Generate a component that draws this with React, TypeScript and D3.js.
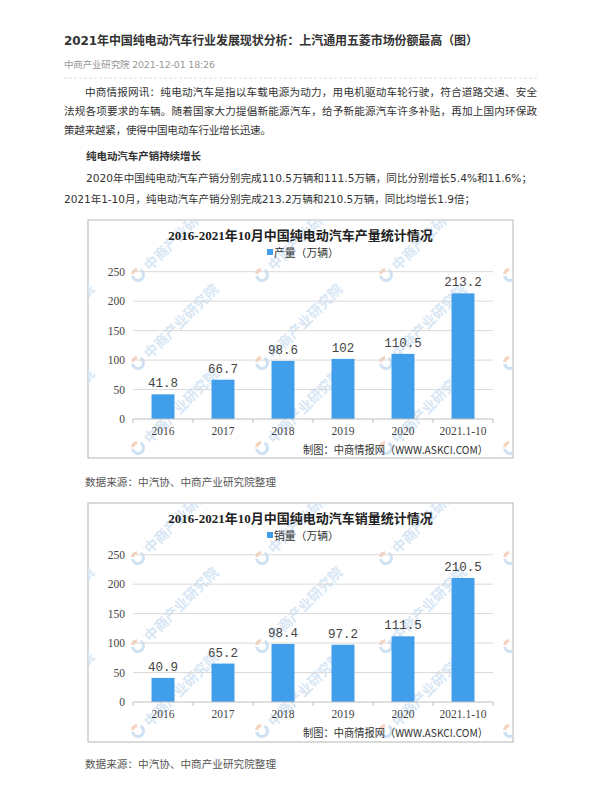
import { scaleBand, scaleLinear, arc } from "d3";

const categories = ["2016", "2017", "2018", "2019", "2020", "2021.1-10"];
const production = [41.8, 66.7, 98.6, 102, 110.5, 213.2];
const sales = [40.9, 65.2, 98.4, 97.2, 111.5, 210.5];
const yTicks = [0, 50, 100, 150, 200, 250];

const pageTitle = "2021年中国纯电动汽车行业发展现状分析：上汽通用五菱市场份额最高（图）";
const byline = "中商产业研究院 2021-12-01 18:26";
const para1 = [
  "中商情报网讯：纯电动汽车是指以车载电源为动力，用电机驱动车轮行驶，符合道路交通、安全",
  "法规各项要求的车辆。随着国家大力提倡新能源汽车，给予新能源汽车许多补贴，再加上国内环保政",
  "策越来越紧，使得中国电动车行业增长迅速。",
];
const subHead = "纯电动汽车产销持续增长";
const para2 = [
  "2020年中国纯电动汽车产销分别完成110.5万辆和111.5万辆，同比分别增长5.4%和11.6%；",
  "2021年1-10月，纯电动汽车产销分别完成213.2万辆和210.5万辆，同比均增长1.9倍；",
];
const sourceNote = "数据来源：中汽协、中商产业研究院整理";
const madeBy = "制图：中商情报网（WWW.ASKCI.COM）";
const watermark = "中商产业研究院";

const SANS = '"DejaVu Sans", "Noto Sans CJK SC", sans-serif';
const CJK = '"Noto Sans CJK SC", sans-serif';
const SERIF = '"Liberation Serif", "Noto Sans CJK SC", serif';
const MONO = '"Liberation Mono", monospace';
const BLUE = "#409eea";

const BOX_L = 88;
const BOX_R = 513;

type PanelProps = {
  id: string;
  top: number;
  height: number;
  title: string;
  legend: string;
  values: number[];
};

const blueArc = arc()({ innerRadius: 4, outerRadius: 7, startAngle: Math.PI * 0.15, endAngle: Math.PI * 1.45 } as any);
const orangeArc = arc()({ innerRadius: 4, outerRadius: 7, startAngle: Math.PI * 1.55, endAngle: Math.PI * 1.95 } as any);

const Watermarks = ({ top }: { top: number }) => {
  const cols = [14, 138, 262, 386, 510];
  const rows = [55, 143, 228];
  return (
    <g>
      {rows.map((r) =>
        cols.map((c) => (
          <g key={`wm-${r}-${c}`} transform={`translate(${c},${top + r})`}>
            <path d={blueArc!} fill="#cfe2f4" />
            <path d={orangeArc!} fill="#f7d2bd" />
            <text
              transform="rotate(-45) translate(11,0)"
              fontFamily={CJK}
              fontWeight="bold"
              fontSize={14}
              fill="#d8e7f5"
              dominantBaseline="central"
            >
              {watermark}
            </text>
          </g>
        ))
      )}
    </g>
  );
};

const BarPanel = ({ id, top, height, title, legend, values }: PanelProps) => {
  const x = scaleBand()
    .domain(categories)
    .range([133, 493])
    .paddingInner(0.617)
    .paddingOuter(0.3085);
  const y = scaleLinear().domain([0, 250]).range([top + 199, top + 51.7]);
  const step = x.step();
  const bounds = categories.map((c) => x(c)! - (step - x.bandwidth()) / 2).concat([493]);

  return (
    <g>
      <defs>
        <clipPath id={`clip-${id}`}>
          <rect x={BOX_L} y={top} width={BOX_R - BOX_L} height={height} />
        </clipPath>
      </defs>
      <rect x={BOX_L} y={top} width={BOX_R - BOX_L} height={height} fill="#fff" stroke="#b5b5b5" />
      <g clipPath={`url(#clip-${id})`}>
        <Watermarks top={top} />
      </g>
      <text
        x={(BOX_L + BOX_R) / 2}
        y={top + 15.5}
        textAnchor="middle"
        dominantBaseline="central"
        fontFamily={SERIF}
        fontWeight="bold"
        fontSize={13}
        fill="#222"
      >
        {title}
      </text>
      <rect x={267} y={top + 29} width={6} height={6} fill={BLUE} />
      <text x={274} y={top + 32.3} dominantBaseline="central" fontFamily={CJK} fontSize={10.8} fill="#333">
        {legend}
      </text>
      {yTicks.map((t) => (
        <g key={`g-${t}`}>
          {t > 0 && <line x1={133} x2={493} y1={y(t)} y2={y(t)} stroke="#d9d9d9" />}
          <text
            x={125}
            y={y(t)}
            textAnchor="end"
            dominantBaseline="central"
            fontFamily={SERIF}
            fontSize={11.5}
            fill="#444"
          >
            {t}
          </text>
        </g>
      ))}
      {values.map((v, i) => (
        <g key={`bar-${i}`}>
          <rect x={x(categories[i])} y={y(v)} width={x.bandwidth()} height={y(0) - y(v)} fill={BLUE} />
          <text
            x={x(categories[i])! + x.bandwidth() / 2}
            y={y(v) - 10}
            textAnchor="middle"
            dominantBaseline="central"
            fontFamily={MONO}
            fontSize={12.5}
            fill="#444"
          >
            {String(v)}
          </text>
        </g>
      ))}
      <line x1={133} x2={493} y1={y(0)} y2={y(0)} stroke="#bfbfbf" />
      {bounds.map((b, i) => (
        <line key={`tk-${i}`} x1={b} x2={b} y1={y(0)} y2={y(0) + 4} stroke="#bfbfbf" />
      ))}
      {categories.map((c) => (
        <text
          key={`xl-${c}`}
          x={x(c)! + x.bandwidth() / 2}
          y={top + 210.5}
          textAnchor="middle"
          dominantBaseline="central"
          fontFamily={SERIF}
          fontSize={11.5}
          fill="#444"
        >
          {c}
        </text>
      ))}
      <text
        x={303}
        y={top + 228.5}
        dominantBaseline="central"
        fontFamily={CJK}
        fontSize={11}
        textLength={185}
        lengthAdjust="spacingAndGlyphs"
        fill="#333"
      >
        {madeBy}
      </text>
    </g>
  );
};

const Line = ({ x, y, text, w, bold, size = 10.6, fill = "#333" }: any) => (
  <text
    x={x}
    y={y}
    dominantBaseline="central"
    fontFamily={SANS}
    fontWeight={bold ? "bold" : "normal"}
    fontSize={size}
    fill={fill}
    textLength={w}
    lengthAdjust={w ? "spacing" : undefined}
  >
    {text}
  </text>
);

export default function App() {
  return (
    <svg
      width={600}
      height={800}
      style={{ position: "absolute", left: 0, top: 0, display: "block", background: "#fff" }}
    >
      <rect width={600} height={800} fill="#fff" />
      <Line x={64} y={41} text={pageTitle} w={414} bold size={12} fill="#333" />
      <Line x={64} y={64} text={byline} w={151} size={9.5} fill="#999" />
      <line x1={64} x2={537} y1={78} y2={78} stroke="#ddd" strokeDasharray="3,2" />
      <Line x={85} y={92} text={para1[0]} w={452} />
      <Line x={64} y={111} text={para1[1]} w={473} />
      <Line x={64} y={130} text={para1[2]} w={207} />
      <Line x={86} y={156} text={subHead} w={115} bold size={10.5} />
      <Line x={86} y={178} text={para2[0]} w={446} />
      <Line x={64} y={199} text={para2[1]} w={411} />

      <BarPanel id="prod" top={220} height={238} title="2016-2021年10月中国纯电动汽车产量统计情况" legend="产量（万辆）" values={production} />
      <Line x={85} y={482} text={sourceNote} w={191} fill="#555" />

      <BarPanel id="sales" top={503} height={239} title="2016-2021年10月中国纯电动汽车销量统计情况" legend="销量（万辆）" values={sales} />
      <Line x={85} y={764} text={sourceNote} w={191} fill="#555" />
    </svg>
  );
}
